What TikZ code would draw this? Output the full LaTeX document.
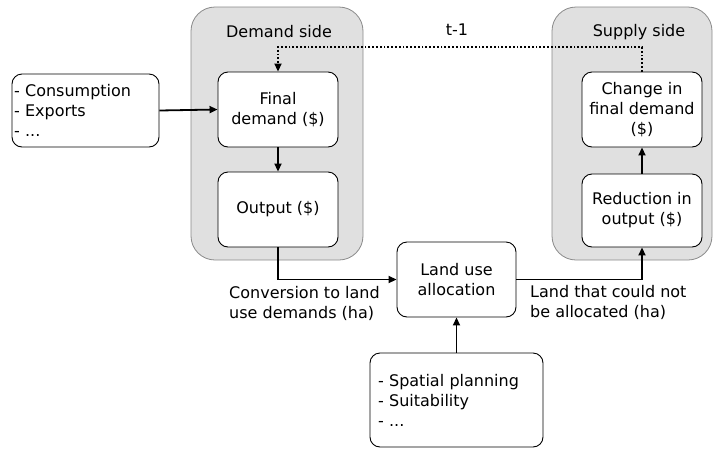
\documentclass[tikz,border=0pt]{standalone}
\usepackage{fontspec}
\setmainfont{DejaVu Sans}
\usetikzlibrary{arrows.meta}
\definecolor{sidegray}{HTML}{E0E0E0}
\definecolor{sideedge}{HTML}{8A8A8A}
\begin{document}
\begin{tikzpicture}[x=1pt,y=-1pt,
  every node/.style={font=\fontsize{16}{20}\selectfont, inner sep=0pt},
  side/.style={draw=sideedge, fill=sidegray, rounded corners=24pt, line width=0.8pt},
  box/.style={draw=black, fill=white, rounded corners=10pt, line width=0.9pt, align=center},
  listbox/.style={draw=black, fill=white, rounded corners=10pt, line width=0.9pt, align=left},
  flow/.style={line width=1.8pt, -{Triangle[length=8pt,width=7pt]}},
  lag/.style={line width=1.8pt, dotted, -{Triangle[length=8pt,width=7pt]}},
  lbl/.style={align=left, anchor=west}
]
\useasboundingbox (0,0) rectangle (716,448);
\fill[white] (0,0) rectangle (716,448);
% side panels
\draw[side] (191,7) rectangle (363,260);
\draw[side] (552,7) rectangle (712,260);
\node (dside) at (279,32) {Demand side};
\node (sside) at (639,32) {Supply side};
% boxes
\node[box, minimum width=120pt, minimum height=75pt] (fd) at (278,109.5) {Final\\demand (\$)};
\node[box, minimum width=120pt, minimum height=75pt] (out) at (278,209.5) {Output (\$)};
\node[listbox, minimum width=147pt, minimum height=73pt, text width=143pt] (cons) at (85.5,110.5) {- Consumption\\- Exports\\- ...};
\node[box, minimum width=120pt, minimum height=75pt] (chg) at (642,109.5) {Change in\\final demand\\(\$)};
\node[box, minimum width=120pt, minimum height=73pt] (red) at (642,210.5) {Reduction in\\output (\$)};
\node[box, minimum width=119pt, minimum height=75pt] (lua) at (456.5,279.5) {Land use\\allocation};
\node[listbox, minimum width=173pt, minimum height=94pt, text width=157pt] (sp) at (456.5,400) {- Spatial planning\\- Suitability\\- ...};
% connectors
\draw[flow] (cons.east) -- (fd.west);
\draw[flow] (fd.south) -- (out.north);
\draw[flow] (red.north) -- (chg.south);
\draw[flow] (out.south) |- (lua.west);
\draw[flow] (lua.east) -| (red.south);
\draw[flow] (sp.north) -- (lua.south);
\coordinate (lagR) at (642,47);
\coordinate (lagL) at (278,47);
\draw[lag] (chg.north) -- (lagR) -- (lagL) -- (fd.north);
\node (tm) at (457,30) {t-1};
% labels
\node[lbl] (conv) at (229,303) {Conversion to land\\use demands (ha)};
\node[lbl] (notal) at (530,302) {Land that could not\\be allocated (ha)};
\end{tikzpicture}
\end{document}
